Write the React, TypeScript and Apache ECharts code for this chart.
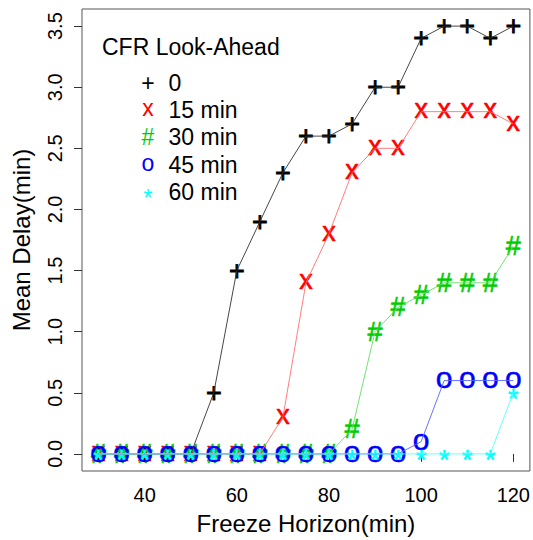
import React, { useEffect, useRef } from "react";
import * as echarts from "echarts";

const freezeHorizon = [30, 35, 40, 45, 50, 55, 60, 65, 70, 75, 80, 85, 90, 95, 100, 105, 110, 115, 120];
const delay0 = [0, 0, 0, 0, 0, 0.5, 1.5, 1.9, 2.3, 2.6, 2.6, 2.7, 3.0, 3.0, 3.4, 3.5, 3.5, 3.4, 3.5];
const delay15 = [0, 0, 0, 0, 0, 0, 0, 0, 0.3, 1.4, 1.8, 2.3, 2.5, 2.5, 2.8, 2.8, 2.8, 2.8, 2.7];
const delay30 = [0, 0, 0, 0, 0, 0, 0, 0, 0, 0, 0, 0.2, 1.0, 1.2, 1.3, 1.4, 1.4, 1.4, 1.7];
const delay45 = [0, 0, 0, 0, 0, 0, 0, 0, 0, 0, 0, 0, 0, 0, 0.1, 0.6, 0.6, 0.6, 0.6];
const delay60 = [0, 0, 0, 0, 0, 0, 0, 0, 0, 0, 0, 0, 0, 0, 0, 0, 0, 0, 0.5];

const seriesNames = ["0", "15 min", "30 min", "45 min", "60 min"];
const seriesValues = [delay0, delay15, delay30, delay45, delay60];
const seriesGlyphs = ["+", "x", "#", "o", "*"];
const seriesColors = ["#000000", "#FF0000", "#00CD00", "#0000FF", "#00FFFF"];
const lineColors = ["#333333", "#FF7070", "#66DD66", "#5566FF", "#55FFFF"];

const xTicks = [40, 60, 80, 100, 120];
const yTicks = [0, 0.5, 1, 1.5, 2, 2.5, 3, 3.5];

const legendTitle = "CFR Look-Ahead";
const FONT = '"Liberation Sans", Arial, Helvetica, sans-serif';

// vertical correction (in em) so the glyph's ink is centred on its anchor
const glyphShift: Record<string, number> = { "+": 0, x: -0.087, "#": 0, o: -0.087, "*": 0.238 };
const glyphSize: Record<string, number> = { "+": 27, x: 27, "#": 27, o: 30, "*": 27 };
const glyphStroke: Record<string, number> = { "+": 0.8, x: 0.6, "#": 0.6, o: 0.5, "*": 0.6 };

export default function App() {
  const ref = useRef<HTMLDivElement>(null);
  useEffect(() => {
    if (!ref.current) return;
    const chart = echarts.init(ref.current, undefined, { renderer: "svg" });

    const series: any[] = [];
    seriesValues.forEach((vals, si) => {
      const data = freezeHorizon.map((x, i) => [x, vals[i]]);
      series.push({
        type: "line",
        name: seriesNames[si] + " line",
        data,
        symbol: "none",
        lineStyle: { color: lineColors[si], width: 1, opacity: 0.9 },
        silent: true,
      });
      const glyph = seriesGlyphs[si];
      const color = seriesColors[si];
      const size = glyphSize[glyph];
      series.push({
        type: "custom",
        name: seriesNames[si],
        data,
        encode: { x: 0, y: 1 },
        silent: true,
        renderItem: (params: any, api: any) => {
          const pt = api.coord([api.value(0), api.value(1)]);
          return {
            type: "text",
            x: pt[0],
            y: pt[1] + glyphShift[glyph] * size,
            style: {
              text: glyph,
              fill: color,
              stroke: color,
              lineWidth: glyphStroke[glyph],
              fontSize: size,
              fontFamily: FONT,
              align: "center",
              verticalAlign: "middle",
            },
          };
        },
      });
    });

    const legendFont = 23;
    const rowY0 = 82.5;
    const rowStep = 27.4;
    const graphic: any[] = [
      {
        type: "text",
        left: 102,
        top: 47 - legendFont / 2,
        style: { text: legendTitle, fill: "#000", fontSize: legendFont, fontFamily: FONT },
      },
    ];
    seriesNames.forEach((name, i) => {
      const cy = rowY0 + i * rowStep;
      graphic.push({
        type: "text",
        x: 148,
        y: cy + glyphShift[seriesGlyphs[i]] * legendFont,
        style: {
          text: seriesGlyphs[i],
          fill: seriesColors[i],
          fontSize: legendFont,
          fontFamily: FONT,
          align: "center",
          verticalAlign: "middle",
        },
      });
      graphic.push({
        type: "text",
        x: 168.5,
        y: cy,
        style: {
          text: name,
          fill: "#000",
          fontSize: legendFont,
          fontFamily: FONT,
          align: "left",
          verticalAlign: "middle",
        },
      });
    });

    chart.setOption({
      animation: false,
      textStyle: { fontFamily: FONT },
      grid: {
        left: 82,
        right: 3,
        top: 9,
        bottom: 66,
        show: true,
        borderColor: "#555",
        borderWidth: 1,
        backgroundColor: "transparent",
      },
      xAxis: {
        type: "value",
        min: 26.4,
        max: 123.6,
        axisLine: { show: false },
        splitLine: { show: false },
        axisTick: {
          show: true,
          length: 8,
          customValues: xTicks,
          lineStyle: { color: "#333", width: 1 },
        },
        axisLabel: {
          customValues: xTicks,
          fontSize: 20,
          color: "#000",
          margin: 14,
          fontFamily: FONT,
        },
        name: "Freeze Horizon(min)",
        nameLocation: "middle",
        nameGap: 40,
        nameTextStyle: { fontSize: 24, color: "#000", fontFamily: FONT },
      },
      yAxis: {
        type: "value",
        min: -0.14,
        max: 3.64,
        axisLine: { show: false },
        splitLine: { show: false },
        axisTick: {
          show: true,
          length: 8,
          customValues: yTicks,
          lineStyle: { color: "#333", width: 1 },
        },
        axisLabel: {
          customValues: yTicks,
          fontSize: 20,
          color: "#000",
          margin: 17,
          rotate: 90,
          fontFamily: FONT,
          formatter: (v: number) => v.toFixed(1),
        },
        name: "Mean Delay(min)",
        nameLocation: "middle",
        nameGap: 49,
        nameRotate: 90,
        nameTextStyle: { fontSize: 24, color: "#000", fontFamily: FONT },
      },
      graphic,
      series,
    });
    return () => chart.dispose();
  }, []);
  return (
    <div
      ref={ref}
      style={{ position: "absolute", left: 0, top: 0, width: 533, height: 540, background: "#fff" }}
    />
  );
}
